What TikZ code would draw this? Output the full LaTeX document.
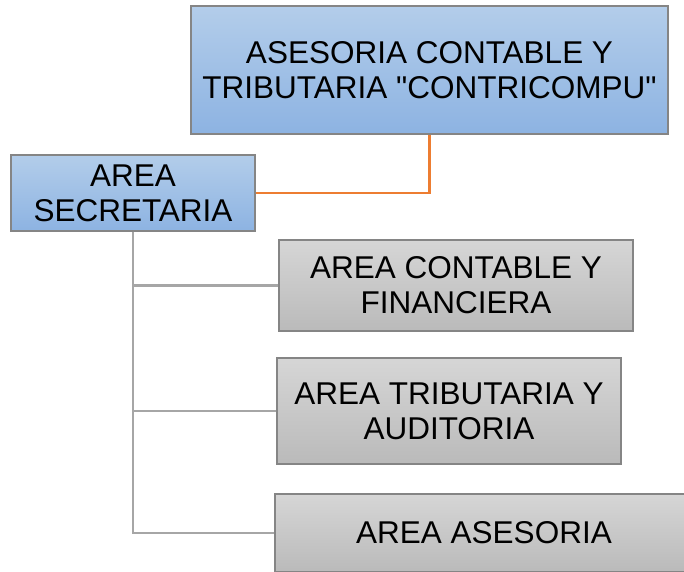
\documentclass[tikz,border=0pt]{standalone}
\usepackage{fontspec}
\setmainfont{Liberation Sans}[Ligatures=TeXOff]
\definecolor{bluetop}{HTML}{B3CDEA}
\definecolor{bluebot}{HTML}{8DB3E2}
\definecolor{graytop}{HTML}{D6D6D6}
\definecolor{graybot}{HTML}{BABABA}
\definecolor{boxline}{HTML}{858585}
\definecolor{linkorange}{HTML}{ED7D31}
\definecolor{linkgray}{HTML}{A6A6A6}
\tikzset{
  bluebox/.style={draw=boxline, line width=1.2pt, top color=bluetop, bottom color=bluebot,
    align=center, inner sep=0pt, font=\fontsize{31.5}{35}\selectfont},
  graybox/.style={draw=boxline, line width=1.2pt, top color=graytop, bottom color=graybot,
    align=center, inner sep=0pt, font=\fontsize{31.5}{35}\selectfont},
  orangelink/.style={draw=linkorange, line width=2.6pt},
  graylink/.style={draw=linkgray, line width=2.6pt}
}
\begin{document}
\begin{tikzpicture}[x=1pt, y=-1pt]
    \useasboundingbox (0,0) rectangle (684,571);
    \clip (0,0) rectangle (684,571);
    \node[bluebox, minimum width=477pt, minimum height=128pt] (top) at (429.5,70) {ASESORIA CONTABLE Y\\TRIBUTARIA "CONTRICOMPU"};
    \node[bluebox, minimum width=244pt, minimum height=76pt] (sec) at (133,193) {AREA\\SECRETARIA};
    \node[graybox, minimum width=354pt, minimum height=91pt] (cont) at (456,285.5) {AREA CONTABLE Y\\FINANCIERA};
    \node[graybox, minimum width=344pt, minimum height=106pt] (trib) at (449,411) {AREA TRIBUTARIA Y\\AUDITORIA};
    \node[graybox, minimum width=440pt, minimum height=78pt] (ases) at (495,533) {AREA ASESORIA\hspace*{22pt}};
    \draw[orangelink] (top.south) |- (sec.east);
    \foreach \n in {cont,trib,ases} \draw[graylink] (sec.south) |- (\n.west);
\end{tikzpicture}
\end{document}
